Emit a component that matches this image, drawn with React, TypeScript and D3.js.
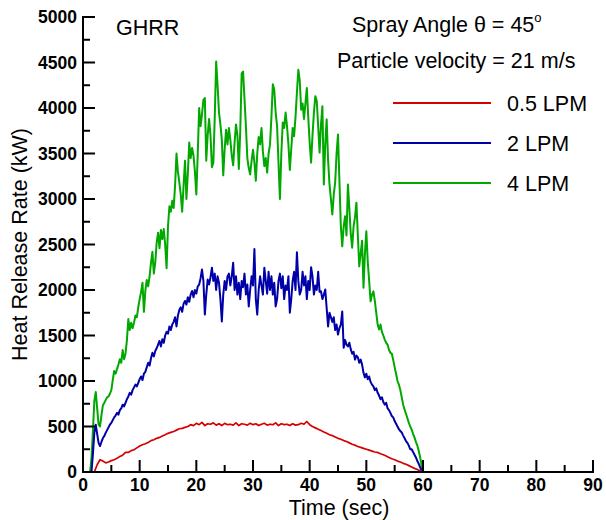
import React from "react";
import * as d3 from "d3";

// time step of the sampled series (seconds)
const STEP_FINE = 0.25;
const STEP_RED = 0.5;
const END_TIME = 90;

// 4 LPM (green), one value every 0.25 s from 0 to 60 s
const lpm4: number[] = [
  0, 0, 0, 0, 0, 0, 150, 450,
  780, 880, 700, 520, 500, 620, 730, 760,
  790, 820, 830, 860, 900, 1010, 1110, 1080,
  1130, 1180, 1240, 1200, 1340, 1240, 1300, 1450,
  1680, 1560, 1640, 1580, 1640, 1720, 1700, 1810,
  1900, 1980, 2080, 1760, 1990, 2110, 2040, 2150,
  2300, 2420, 2180, 2300, 2520, 2630, 2460, 2660,
  2560, 2670, 2500, 2240, 2700, 2920, 2860, 2980,
  2900, 3150, 3500, 3300, 3180, 3050, 2860, 3150,
  3420, 3000, 3280, 3620, 3450, 3560, 3480, 3300,
  3050, 3500, 4000, 3800, 3930, 4090, 4110, 3420,
  3700, 3880, 3700, 3350, 3400, 3900, 4510, 4250,
  3950, 3820, 3650, 3260, 3550, 3760, 3600, 3780,
  3650, 3480, 3370, 3620, 3820, 3700, 3330, 3750,
  4380, 4400, 4100, 3800, 3450, 3340, 3270, 3420,
  3540, 3400, 3200, 3500, 3680, 3600, 3780, 3520,
  3360, 3450, 3290, 3500, 3600, 3900, 4260, 4200,
  3950, 3800, 3400, 3000, 3500, 3840, 3780, 3950,
  3800, 3600, 3320, 3550, 3780, 3690, 3900, 4170,
  4420, 4300, 3980, 4050, 3880, 4050, 4220, 3900,
  3620, 3400, 3700, 3950, 4130, 4080, 3800, 3510,
  3820, 4020, 3160, 3600, 3875, 3430, 3160, 3000,
  2830, 3050, 3180, 3500, 3710, 3200, 2700, 2480,
  2700, 2810, 2600, 3160, 2900, 2620, 2465, 2700,
  2800, 2960, 2600, 2260, 2400, 2540, 2025, 2400,
  2645, 2310, 2100, 1875, 1950, 1985, 1880, 1750,
  1620, 1565, 1620, 1540, 1500, 1455, 1420, 1400,
  1340, 1310, 1300, 1230, 1150, 1080, 1000, 960,
  900, 820, 740, 685, 640, 590, 540, 500,
  465, 420, 380, 330, 290, 230, 160, 80,
  0,
];

// 2 LPM (blue), one value every 0.25 s from 0 to 60 s
const lpm2: number[] = [
  0, 0, 0, 0, 0, 0, 0, 200,
  430, 520, 420, 320, 285, 330, 370, 395,
  430, 460, 490, 520, 540, 570, 600, 620,
  650, 630, 680, 700, 740, 720, 760, 800,
  830, 870, 850, 900, 930, 960, 940, 980,
  1020, 1050, 1010, 1080, 1100, 1150, 1200, 1170,
  1250, 1310, 1270, 1330, 1360, 1400, 1440, 1380,
  1460, 1420, 1500, 1540, 1520, 1600, 1560, 1620,
  1650, 1700, 1600, 1720, 1780, 1810, 1760, 1850,
  1880, 1840, 1920, 1870, 1950, 1990, 1920, 2000,
  1960, 2040, 2060, 2130, 2225, 2100, 1730, 1950,
  2115, 2060, 2140, 2245, 2100, 2180, 2000, 2150,
  2080, 1900, 1655, 1950, 2100, 2000, 2150, 2180,
  2050, 2150, 2300, 2000, 2150, 1950, 2080, 1900,
  2100, 2030, 2180, 1950, 2060, 1820, 2000, 2150,
  2050, 2450, 1900, 1730, 2000, 2150, 2050, 1950,
  2245, 2100, 1960, 2200, 2000, 2150, 1950, 2080,
  1820, 1900, 2100, 2180, 2020, 2150, 1900, 2050,
  2000, 2150, 1750, 1900, 2100, 2200, 2000, 2415,
  2100, 1950, 2000, 2200, 2050, 2150, 1900, 2100,
  2000, 2250, 2150, 1950, 2050, 2000, 2200, 1980,
  1985, 1900, 1950, 2005, 1800, 1600, 1750, 1700,
  1650, 1700, 1560, 1620, 1510, 1580, 1620, 1765,
  1365, 1450, 1400, 1380, 1420, 1350, 1300, 1320,
  1235, 1280, 1260, 1200, 1235, 1180, 1090, 1040,
  1080, 1020, 1050, 990, 960, 940, 900, 920,
  870, 840, 800, 820, 770, 740, 760, 700,
  680, 650, 615, 600, 560, 530, 500, 470,
  450, 435, 400, 370, 340, 320, 290, 250,
  250, 220, 190, 160, 120, 90, 50, 20,
  0,
];

// 0.5 LPM (red), one value every 0.5 s from 0 to 60 s
const lpm05: number[] = [
  0, 0, 0, 0, 0, 80, 135, 120,
  100, 110, 125, 135, 150, 170, 185, 215,
  215, 235, 245, 265, 285, 300, 310, 325,
  345, 355, 370, 380, 395, 410, 425, 435,
  445, 460, 475, 480, 490, 500, 520, 510,
  535, 520, 545, 510, 530, 525, 540, 515,
  530, 510, 535, 520, 525, 515, 540, 510,
  530, 525, 515, 535, 520, 530, 510, 525,
  535, 515, 525, 520, 540, 510, 530, 520,
  525, 510, 530, 515, 520, 535, 525, 555,
  520, 500, 485, 470, 455, 440, 425, 410,
  400, 385, 370, 360, 345, 335, 320, 305,
  295, 280, 270, 260, 250, 240, 230, 220,
  215, 200, 190, 175, 160, 145, 135, 120,
  110, 95, 85, 70, 55, 40, 28, 12,
  0,
];

const xTicks = [0, 10, 20, 30, 40, 50, 60, 70, 80, 90];
const yTicks = [0, 500, 1000, 1500, 2000, 2500, 3000, 3500, 4000, 4500, 5000];

const seriesNames = ["0.5 LPM", "2 LPM", "4 LPM"];
const seriesColors = ["#d60000", "#0000a8", "#00a800"];

type Pt = { t: number; v: number };

function toPoints(vals: number[], step: number): Pt[] {
  const pts = vals.map((v, i) => ({ t: i * step, v }));
  pts.push({ t: END_TIME, v: 0 });
  return pts;
}

export default function App() {
  const W = 606;
  const H = 520;
  const left = 83;
  const right = 593;
  const top = 17;
  const bottom = 472;

  const x = d3.scaleLinear().domain([0, 90]).range([left, right]);
  const y = d3.scaleLinear().domain([0, 5000]).range([bottom, top]);

  const line = d3
    .line<Pt>()
    .x((d) => x(d.t))
    .y((d) => y(d.v));

  const series = [
    { pts: toPoints(lpm05, STEP_RED), w: 1.7 },
    { pts: toPoints(lpm2, STEP_FINE), w: 2 },
    { pts: toPoints(lpm4, STEP_FINE), w: 2 },
  ];

  const xMinor = d3.range(0, 91, 5);
  const yMinor = d3.range(0, 5001, 250);
  const font = "'Liberation Sans', Arial, Helvetica, sans-serif";

  return (
    <div style={{ position: "absolute", left: 0, top: 0 }}>
      <svg width={W} height={H} style={{ display: "block", background: "#fff" }}>
        {/* series lines */}
        {[2, 1, 0].map((i) => (
          <path
            key={i}
            d={line(series[i].pts) || ""}
            fill="none"
            stroke={seriesColors[i]}
            strokeWidth={series[i].w}
            strokeLinejoin="round"
          />
        ))}

        {/* axes */}
        <g stroke="#000" strokeWidth={2}>
          <line x1={left} x2={left} y1={top - 1} y2={bottom + 1} />
          <line x1={left - 1} x2={right + 1} y1={bottom} y2={bottom} />
          {yMinor.map((v) => (
            <line key={"ym" + v} x1={left} x2={left + (v % 500 === 0 ? 12 : 7)} y1={y(v)} y2={y(v)} />
          ))}
          {xMinor.map((t) => (
            <line key={"xm" + t} x1={x(t)} x2={x(t)} y1={bottom} y2={bottom - (t % 10 === 0 ? 12 : 7)} />
          ))}
        </g>

        {/* tick labels */}
        <g fontFamily={font} fontSize={17.5} fontWeight="bold" fill="#000">
          {yTicks.map((v) => (
            <text key={"yl" + v} x={left - 6} y={y(v)} dy="0.35em" textAnchor="end">
              {v}
            </text>
          ))}
          {xTicks.map((t) => (
            <text key={"xl" + t} x={x(t)} y={bottom + 19} textAnchor="middle">
              {t}
            </text>
          ))}
        </g>

        {/* axis titles */}
        <g fontFamily={font} fontSize={21.5} fill="#000">
          <text x={(left + right) / 2 + 1} y={515} textAnchor="middle">
            Time (sec)
          </text>
          <text transform={`translate(27, ${(top + bottom) / 2}) rotate(-90)`} textAnchor="middle">
            Heat Release Rate (kW)
          </text>
        </g>

        {/* annotations */}
        <g fontFamily={font} fontSize={21.5} fill="#000">
          <text x={116} y={35}>GHRR</text>
          <text x={352} y={32}>
            Spray Angle {"\u03B8"} = 45
            <tspan fontSize={13} dy={-10}>o</tspan>
          </text>
          <text x={337} y={68}>Particle velocity = 21 m/s</text>
        </g>

        {/* legend */}
        <g fontFamily={font} fontSize={21.5} fill="#000">
          {seriesNames.map((n, i) => (
            <g key={n}>
              <line
                x1={393}
                x2={491}
                y1={103 + i * 40}
                y2={103 + i * 40}
                stroke={seriesColors[i]}
                strokeWidth={2}
              />
              <text x={507} y={103 + i * 40} dy="0.35em">
                {n}
              </text>
            </g>
          ))}
        </g>
      </svg>
    </div>
  );
}
